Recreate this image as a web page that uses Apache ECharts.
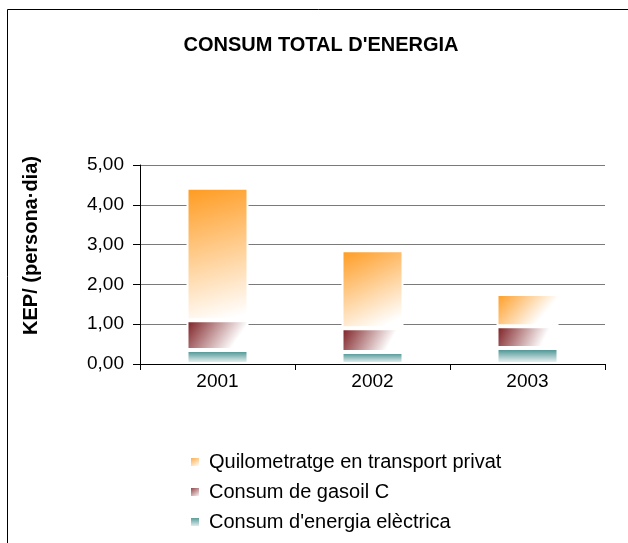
<!DOCTYPE html>
<html>
<head>
<meta charset="utf-8">
<script src="https://cdn.jsdelivr.net/npm/echarts@6/dist/echarts.min.js"></script>
<style>
  html, body { margin: 0; padding: 0; background: #fff; }
  #main { width: 628px; height: 543px; }
</style>
</head>
<body>
<div id="main"></div>
<script>
// dades llegides del gràfic
var years = ['2001', '2002', '2003'];
var electrica = [0.35, 0.30, 0.40];
var gasoil = [0.75, 0.60, 0.55];
var transport = [3.33, 1.96, 0.81];
var yTicks = [0, 1, 2, 3, 4, 5];

var font = '"Liberation Sans", Arial, sans-serif';

function grad(x2, y2, c) {
    return new echarts.graphic.LinearGradient(0, 0, x2, y2, [
        { offset: 0, color: c },
        { offset: 1, color: '#ffffff' }
    ]);
}

var myChart = echarts.init(document.getElementById('main'));

var option = {
    animation: false,
    backgroundColor: '#fff',
    textStyle: { fontFamily: font },
    title: {
        text: 'CONSUM TOTAL D\'ENERGIA',
        left: 316,
        textAlign: 'center',
        top: 30,
        textStyle: { fontSize: 20, fontWeight: 'bold', color: '#000', fontFamily: font }
    },
    graphic: [{
        type: 'rect',
        shape: { x: 7.5, y: 9.5, width: 700, height: 700 },
        style: { fill: 'none', stroke: '#000', lineWidth: 1 },
        silent: true
    }],
    legend: {
        orient: 'vertical',
        left: 184,
        top: 447,
        itemWidth: 10,
        itemHeight: 10,
        itemGap: 10,
        icon: 'rect',
        data: ['Quilometratge en transport privat', 'Consum de gasoil C', 'Consum d\'energia elèctrica'],
        textStyle: { fontSize: 20, color: '#000', fontFamily: font, padding: [0, 0, 0, 4] }
    },
    grid: { left: 140, right: 23, top: 165, bottom: 179 },
    xAxis: {
        type: 'category',
        data: years,
        axisLine: { lineStyle: { color: '#000', width: 1 } },
        axisTick: { show: true, length: 6, lineStyle: { color: '#000' } },
        axisLabel: { fontSize: 19, color: '#000', margin: 8 }
    },
    yAxis: {
        type: 'value',
        min: yTicks[0],
        max: yTicks[yTicks.length - 1],
        interval: 1,
        name: 'KEP/ (persona·dia)',
        nameLocation: 'middle',
        nameGap: 99,
        nameTextStyle: { fontSize: 20, fontWeight: 'bold', color: '#000', padding: [0, 0, 0, 38] },
        axisLine: { show: true, lineStyle: { color: '#000', width: 1 } },
        axisTick: { show: true, length: 7, lineStyle: { color: '#000' } },
        axisLabel: {
            fontSize: 19, color: '#000', margin: 16,
            formatter: function (v) { return v.toFixed(2).replace('.', ','); }
        },
        splitLine: { lineStyle: { color: '#7a7a7a', width: 1 } }
    },
    series: [
        {
            name: 'Consum d\'energia elèctrica',
            type: 'bar',
            stack: 'total',
            barWidth: '40%',
            data: electrica,
            itemStyle: { color: grad(0, 1, '#3a8a88'), borderColor: '#fff', borderWidth: 2 }
        },
        {
            name: 'Consum de gasoil C',
            type: 'bar',
            stack: 'total',
            data: gasoil,
            itemStyle: { color: grad(0.7, 1, '#7a1a1e'), borderColor: '#fff', borderWidth: 2 }
        },
        {
            name: 'Quilometratge en transport privat',
            type: 'bar',
            stack: 'total',
            data: transport,
            itemStyle: { color: grad(0.6, 1, '#ff9a1e'), borderColor: '#fff', borderWidth: 2 }
        }
    ]
};

myChart.setOption(option);
</script>
</body>
</html>
